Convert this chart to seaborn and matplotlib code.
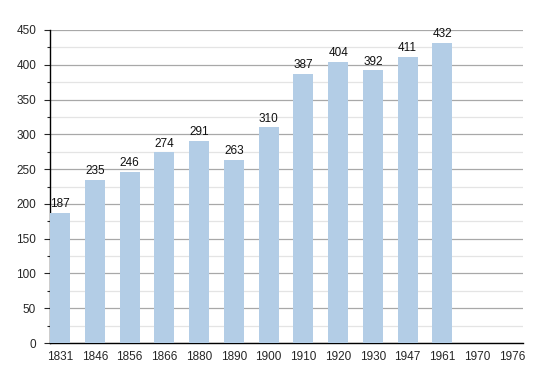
import matplotlib
matplotlib.use('Agg')
import matplotlib.pyplot as plt
import seaborn as sns
import pandas as pd
from matplotlib.ticker import MultipleLocator

# 数据
years = ['1831', '1846', '1856', '1866', '1880', '1890', '1900',
         '1910', '1920', '1930', '1947', '1961', '1970', '1976']
population = [187, 235, 246, 274, 291, 263, 310,
              387, 404, 392, 411, 432, None, None]

df = pd.DataFrame({'year': years, 'pop': population})

sns.set_style('white')
plt.rcParams['font.family'] = ['Liberation Sans', 'DejaVu Sans']

fig = plt.figure(figsize=(5.5, 3.73), dpi=100)
ax = fig.add_axes([0.0909, 0.0804, 0.951 - 0.0909, 0.9196 - 0.0804])

sns.barplot(data=df, x='year', y='pop', order=years, color='#b3cde6',
            saturation=1, width=0.58, linewidth=0, ax=ax, zorder=3)

# 数值标签
for i, v in enumerate(population):
    if v is not None:
        ax.text(i, v + 4, str(v), ha='center', va='bottom', fontsize=8.5, color='#111111')

ax.set_ylim(0, 450)
ax.set_xlim(-0.29, 13.32)
ax.yaxis.set_major_locator(MultipleLocator(50))
ax.yaxis.set_minor_locator(MultipleLocator(25))
ax.grid(which='major', axis='y', color='#a8a8a8', linewidth=0.9, zorder=0)
ax.grid(which='minor', axis='y', color='#e4e4e4', linewidth=0.9, zorder=0)
ax.set_axisbelow(True)

for s in ['top', 'right']:
    ax.spines[s].set_visible(False)
ax.spines['left'].set_color('black')
ax.spines['bottom'].set_color('black')
ax.spines['left'].set_linewidth(1)
ax.spines['bottom'].set_linewidth(1)

ax.tick_params(axis='y', which='major', left=True, length=4, width=0.8, labelsize=8.5, pad=6)
ax.tick_params(axis='y', which='minor', left=True, length=2, width=0.8)
ax.tick_params(axis='x', bottom=False, labelsize=8.5, pad=2)
ax.set_xlabel('')
ax.set_ylabel('')

fig.savefig('out.png', dpi=100)
